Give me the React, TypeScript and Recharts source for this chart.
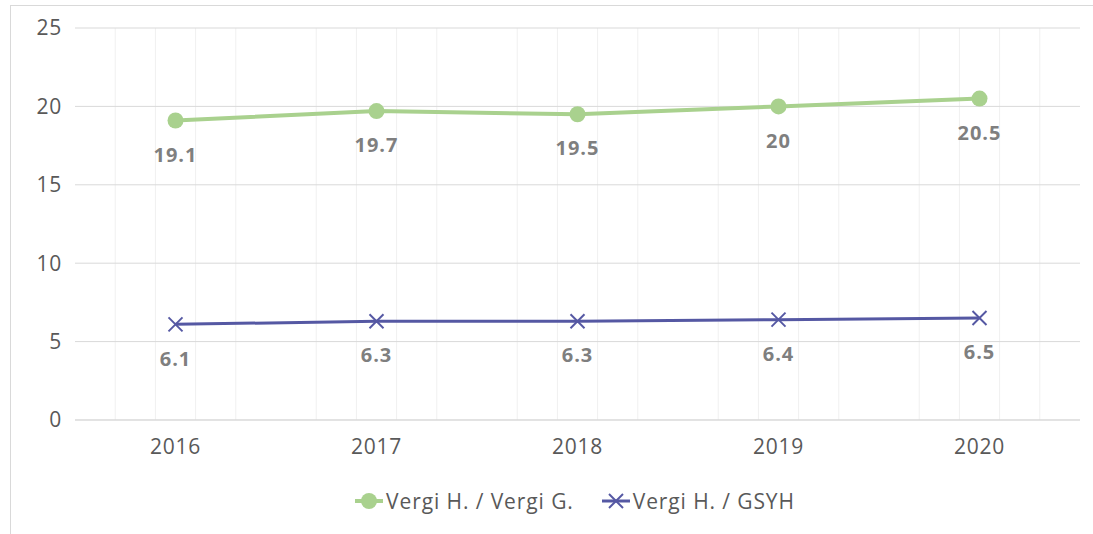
import React from 'react';
import { LineChart, Line, XAxis, YAxis, CartesianGrid, Legend, LabelList } from 'recharts';

const years = ['2016', '2017', '2018', '2019', '2020'];
const vergiG = [19.1, 19.7, 19.5, 20, 20.5];
const gsyh = [6.1, 6.3, 6.3, 6.4, 6.5];
const yTicks = [0, 5, 10, 15, 20, 25];

const GREEN = '#A9D18E';
const BLUE = '#5558A3';
const FONT = '"Open Sans", "Noto Sans", sans-serif';

const data = years.map((y, i) => ({ year: y, g: vergiG[i], s: gsyh[i] }));

const CrossDot = (props: any) => {
  const { cx, cy } = props;
  if (cx == null || cy == null) return null;
  const r = 7;
  return (
    <g stroke={BLUE} strokeWidth={2}>
      <line x1={cx - r} y1={cy - r} x2={cx + r} y2={cy + r} />
      <line x1={cx - r} y1={cy + r} x2={cx + r} y2={cy - r} />
    </g>
  );
};

const LegendContent = () => (
  <div style={{ display: 'flex', justifyContent: 'center', alignItems: 'center', fontFamily: FONT, fontSize: 21, letterSpacing: 0.9, color: '#595959' }}>
    <svg width={28} height={20} style={{ marginRight: 3 }}>
      <line x1={0} y1={10} x2={28} y2={10} stroke={GREEN} strokeWidth={4} />
      <circle cx={14} cy={10} r={8} fill={GREEN} />
    </svg>
    <span style={{ marginRight: 28 }}>Vergi H. / Vergi G.</span>
    <svg width={28} height={20} style={{ marginRight: 3 }}>
      <line x1={0} y1={10} x2={28} y2={10} stroke={BLUE} strokeWidth={3} />
      <line x1={7} y1={3} x2={21} y2={17} stroke={BLUE} strokeWidth={2} />
      <line x1={7} y1={17} x2={21} y2={3} stroke={BLUE} strokeWidth={2} />
    </svg>
    <span>Vergi H. / GSYH</span>
  </div>
);

const minorLines = ({ offset }: any) => {
  const out: number[] = [];
  for (let i = 1; i < 25; i++) {
    if (i % 5 !== 0) out.push(offset.left + (offset.width * i) / 25);
  }
  return out;
};

const tickStyle = { fill: '#595959', fontSize: 21, fontFamily: FONT, letterSpacing: 0.8 };
const labelProps = { fill: '#7f7f7f', fontSize: 20, fontWeight: 'bold', fontFamily: FONT, letterSpacing: 1 } as any;

export default function App() {
  return (
    <div style={{ position: 'absolute', left: 0, top: 0, width: 1093, height: 534, background: '#fff', overflow: 'hidden' }}>
      <div style={{ position: 'absolute', left: 10, top: 5, width: 1200, height: 700, border: '1px solid #d9d9d9' }} />
      <LineChart width={1093} height={534} data={data} margin={{ top: 28, right: 13, bottom: 74, left: 0 }}>
        <CartesianGrid horizontal={false} vertical stroke="#f0f0f0" verticalCoordinatesGenerator={minorLines} />
        <CartesianGrid horizontal vertical={false} stroke="#d9d9d9" />
        <XAxis
          dataKey="year"
          scale="band"
          height={40}
          axisLine={{ stroke: '#d9d9d9' }}
          tickLine={false}
          tickMargin={13}
          tick={tickStyle}
        />
        <YAxis
          width={75}
          domain={[0, 25]}
          ticks={yTicks}
          axisLine={false}
          tickLine={false}
          tickMargin={7}
          tick={tickStyle}
        />
        <Legend layout="horizontal" verticalAlign="middle" content={<LegendContent />} wrapperStyle={{ top: 487, left: 0, width: 1150 }} />
        <Line
          dataKey="g"
          stroke={GREEN}
          strokeWidth={4}
          dot={{ r: 8, fill: GREEN, stroke: GREEN, strokeWidth: 0 }}
          isAnimationActive={false}
        >
          <LabelList dataKey="g" position="bottom" offset={27} {...labelProps} />
        </Line>
        <Line dataKey="s" stroke={BLUE} strokeWidth={3} dot={<CrossDot />} isAnimationActive={false}>
          <LabelList dataKey="s" position="bottom" offset={27} {...labelProps} />
        </Line>
      </LineChart>
    </div>
  );
}
